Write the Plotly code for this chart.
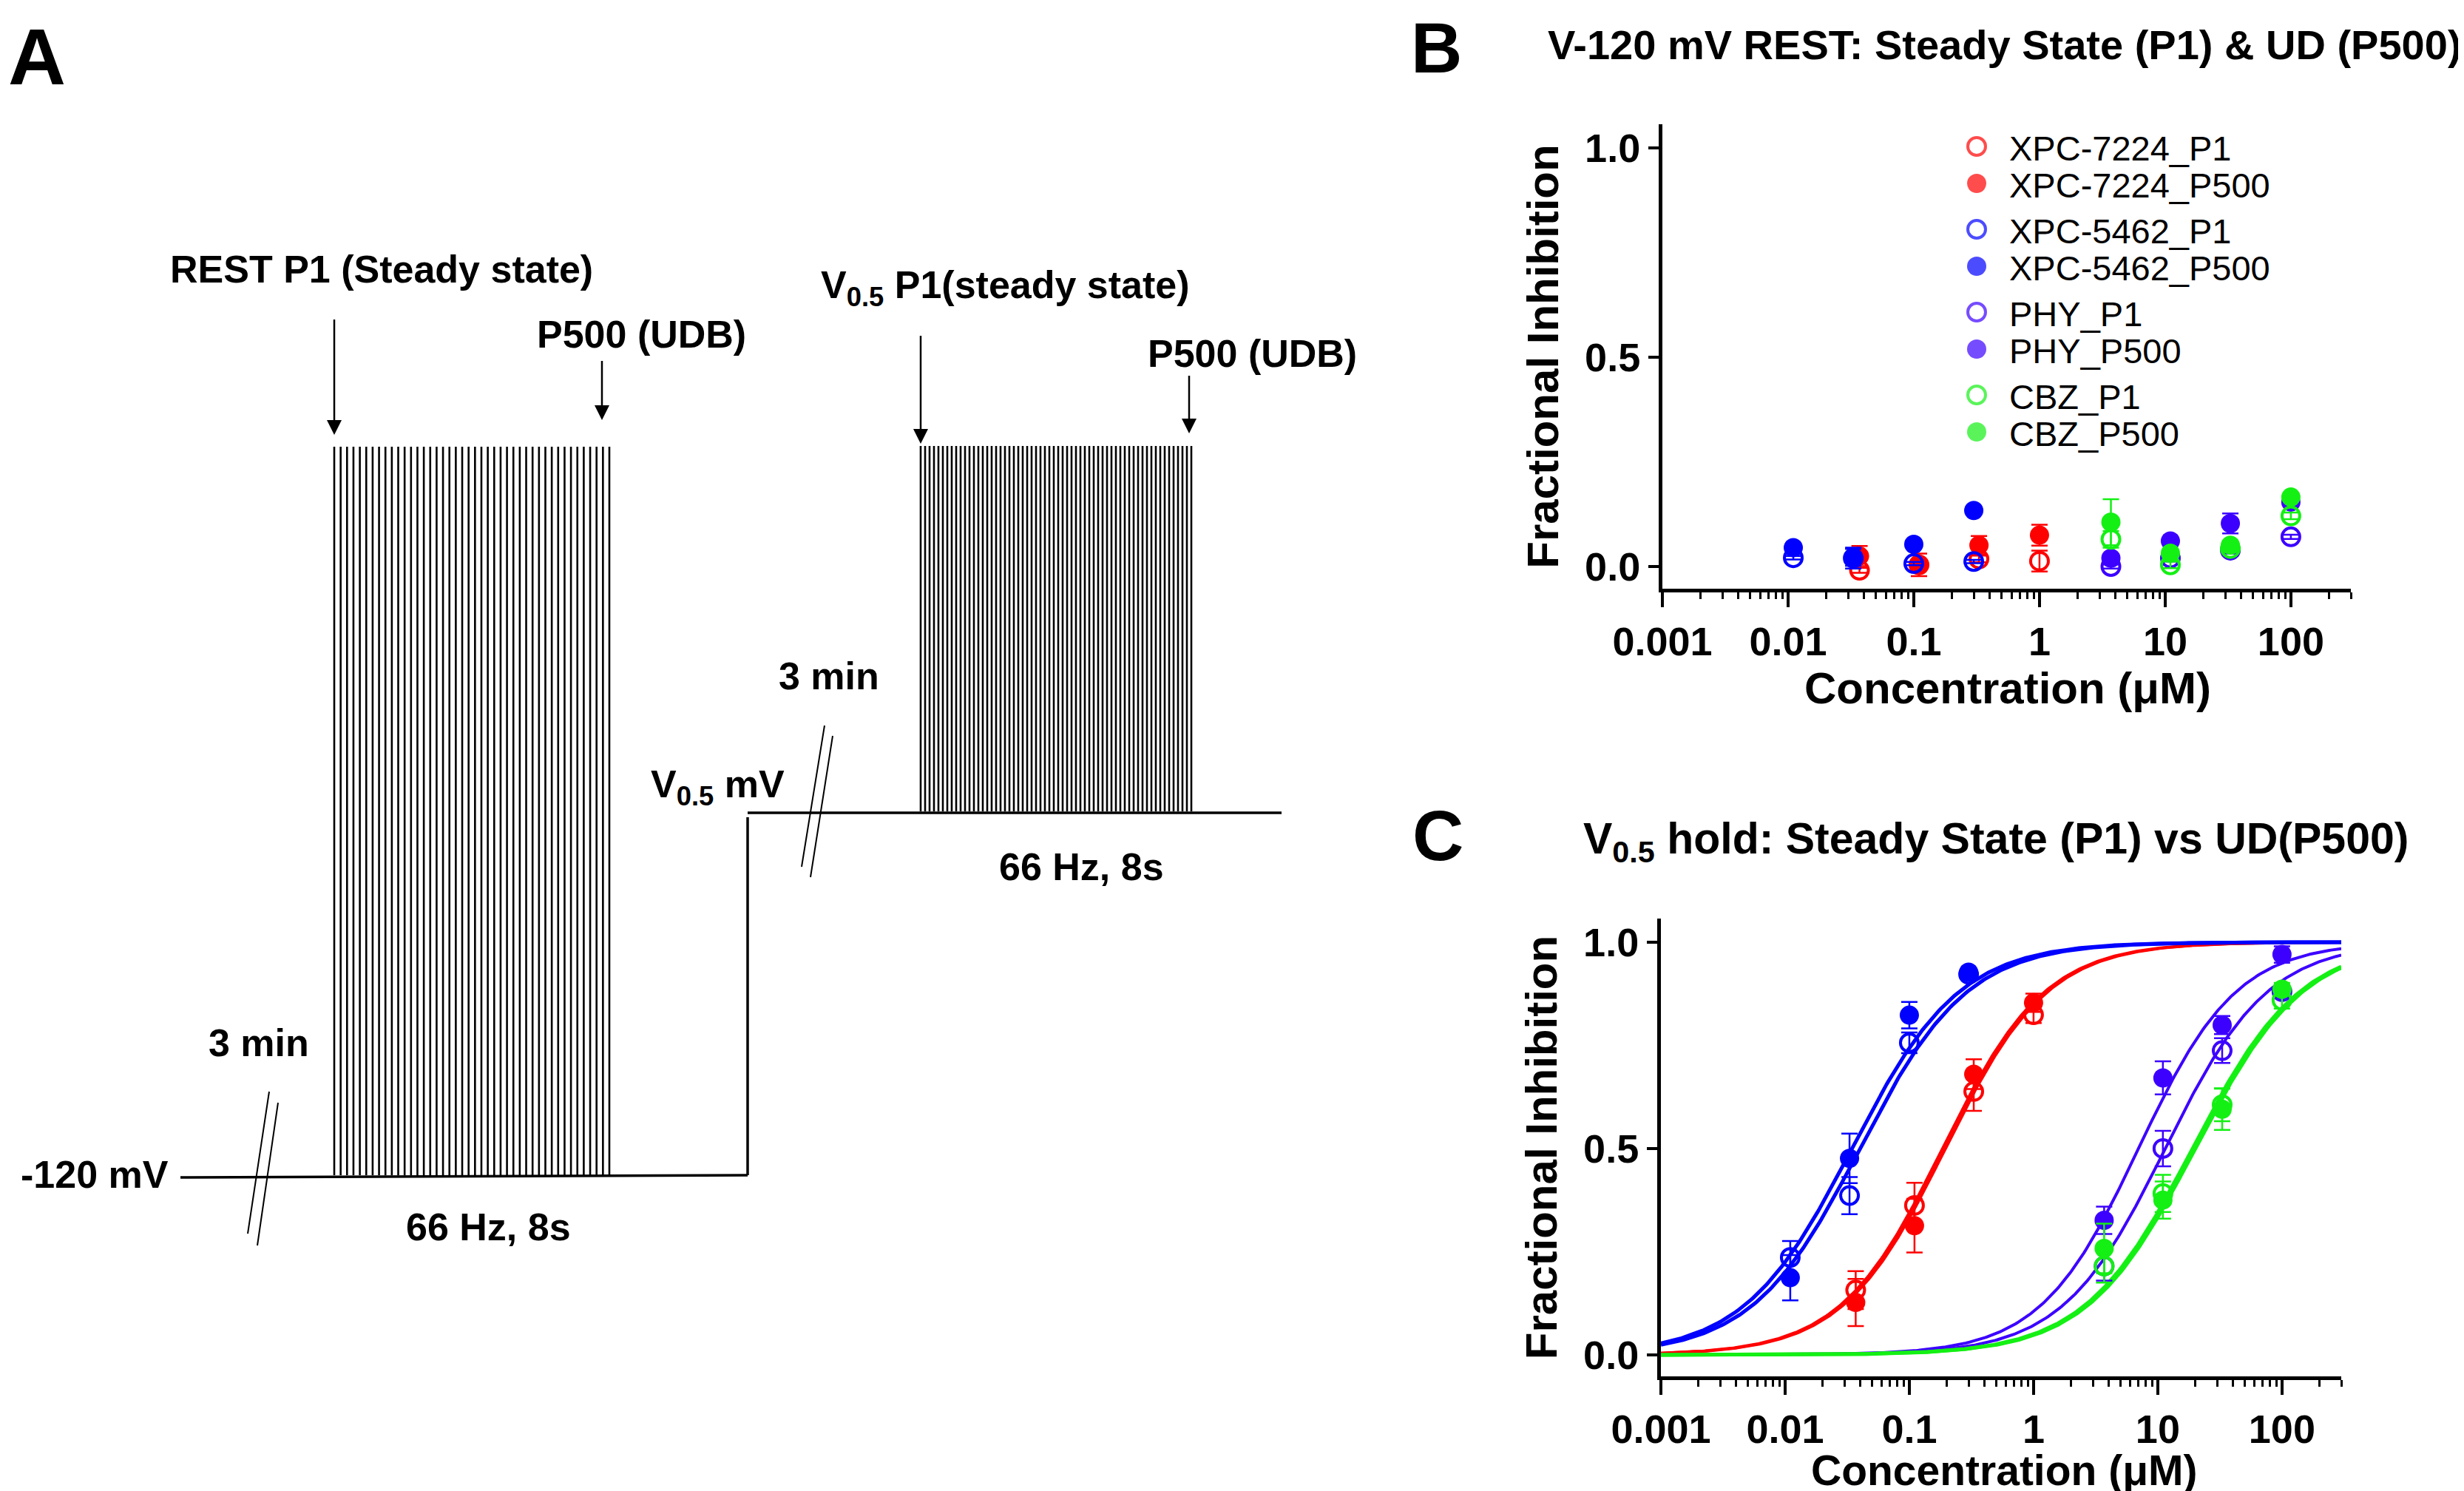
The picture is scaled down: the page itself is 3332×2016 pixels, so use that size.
import numpy as np
import plotly.graph_objects as go

W, H = 3332, 2016

# ---------------- data ----------------
compounds = ["XPC-7224", "XPC-5462", "PHY", "CBZ"]
colors = ["#FF0000", "#0000FF", "#3C00FF", "#14F014"]

conc_xpc7224 = [0.037, 0.11, 0.33, 1.0]
conc_xpc5462 = [0.011, 0.033, 0.1, 0.3]
conc_phy = [3.7, 11.0, 33.0, 100.0]
conc_cbz = [3.7, 11.0, 33.0, 100.0]

# Panel B: -120 mV rest
b_xpc7224_p1 = [-0.009, 0.004, 0.018, 0.013]
b_xpc7224_p1_err = [0.006, 0.006, 0.008, 0.025]
b_xpc7224_p500 = [0.025, 0.004, 0.051, 0.075]
b_xpc7224_p500_err = [0.024, 0.027, 0.022, 0.025]
b_xpc5462_p1 = [0.021, 0.020, 0.007, 0.012]
b_xpc5462_p1_err = [0.004, 0.025, 0.004, 0.004]
b_xpc5462_p500 = [0.045, 0.022, 0.053, 0.134]
b_xpc5462_p500_err = [0.004, 0.02, 0.004, 0.004]
b_phy_p1 = [0.000, 0.020, 0.039, 0.071]
b_phy_p1_err = [0.005, 0.008, 0.008, 0.005]
b_phy_p500 = [0.020, 0.061, 0.103, 0.154]
b_phy_p500_err = [0.005, 0.008, 0.024, 0.008]
b_cbz_p1 = [0.065, 0.004, 0.043, 0.121]
b_cbz_p1_err = [0.02, 0.008, 0.008, 0.008]
b_cbz_p500 = [0.106, 0.032, 0.051, 0.166]
b_cbz_p500_err = [0.055, 0.008, 0.008, 0.008]

# Panel C: V0.5 hold
c_xpc7224_p1 = [0.157, 0.362, 0.638, 0.824]
c_xpc7224_p1_err = [0.046, 0.055, 0.047, 0.02]
c_xpc7224_p500 = [0.127, 0.313, 0.680, 0.853]
c_xpc7224_p500_err = [0.057, 0.065, 0.036, 0.022]
c_xpc5462_p1 = [0.236, 0.386, 0.756, 0.922]
c_xpc5462_p1_err = [0.04, 0.045, 0.025, 0.01]
c_xpc5462_p500 = [0.187, 0.476, 0.823, 0.927]
c_xpc5462_p500_err = [0.055, 0.06, 0.032, 0.01]
c_phy_p1 = [0.215, 0.500, 0.737, 0.880]
c_phy_p1_err = [0.035, 0.043, 0.03, 0.015]
c_phy_p500 = [0.326, 0.671, 0.799, 0.970]
c_phy_p500_err = [0.033, 0.04, 0.022, 0.02]
c_cbz_p1 = [0.215, 0.391, 0.606, 0.859]
c_cbz_p1_err = [0.04, 0.045, 0.04, 0.02]
c_cbz_p500 = [0.258, 0.375, 0.595, 0.886]
c_cbz_p500_err = [0.06, 0.045, 0.05, 0.015]

# Fitted Hill parameters (panel C curves), order as `compounds`
ic50_p1 = [0.195, 0.040, 11.5, 20.0]
ic50_p500 = [0.185, 0.0345, 7.0, 19.0]
hill_p1 = [1.05, 1.0, 1.05, 1.0]
hill_p500 = [1.05, 1.0, 1.1, 1.0]
curve_widths = [4, 5, 4, 5]

x_ticks = [0.001, 0.01, 0.1, 1, 10, 100]
x_ticktext = ["0.001", "0.01", "0.1", "1", "10", "100"]
y_ticks = [0.0, 0.5, 1.0]
y_ticktext = ["0.0", "0.5", "1.0"]

# Panel A protocol (schematic) parameters
pulse_counts = [44, 62]
protocol_labels = ["-120 mV", "V<sub>0.5</sub> mV"]

# ---------------- helpers ----------------
F_SANS = "Liberation Sans, Arial, Helvetica, sans-serif"

concs = [conc_xpc7224, conc_xpc5462, conc_phy, conc_cbz]
b_p1 = [b_xpc7224_p1, b_xpc5462_p1, b_phy_p1, b_cbz_p1]
b_p1e = [b_xpc7224_p1_err, b_xpc5462_p1_err, b_phy_p1_err, b_cbz_p1_err]
b_p5 = [b_xpc7224_p500, b_xpc5462_p500, b_phy_p500, b_cbz_p500]
b_p5e = [b_xpc7224_p500_err, b_xpc5462_p500_err, b_phy_p500_err, b_cbz_p500_err]
c_p1 = [c_xpc7224_p1, c_xpc5462_p1, c_phy_p1, c_cbz_p1]
c_p1e = [c_xpc7224_p1_err, c_xpc5462_p1_err, c_phy_p1_err, c_cbz_p1_err]
c_p5 = [c_xpc7224_p500, c_xpc5462_p500, c_phy_p500, c_cbz_p500]
c_p5e = [c_xpc7224_p500_err, c_xpc5462_p500_err, c_phy_p500_err, c_cbz_p500_err]

fig = go.Figure()


def add_points(xa, ya, x, y, err, color, filled, name):
    if filled:
        marker = dict(symbol="circle", size=26, color=color, line=dict(width=0))
    else:
        marker = dict(symbol="circle-open", size=24, color=color, line=dict(width=4, color=color))
    fig.add_trace(go.Scatter(
        x=x, y=y, mode="markers", name=name, marker=marker, xaxis=xa, yaxis=ya,
        error_y=dict(type="data", array=err, color=color, thickness=2.5, width=11),
        showlegend=False, cliponaxis=False))


# Panel B points
for i, comp in enumerate(compounds):
    add_points("x", "y", concs[i], b_p1[i], b_p1e[i], colors[i], False, comp + "_P1")
    add_points("x", "y", concs[i], b_p5[i], b_p5e[i], colors[i], True, comp + "_P500")

# Panel C fitted curves
xfit = np.logspace(-3, np.log10(300), 400)
for i, comp in enumerate(compounds):
    for ic, nh in ((ic50_p1[i], hill_p1[i]), (ic50_p500[i], hill_p500[i])):
        yfit = 1.0 / (1.0 + (ic / xfit) ** nh)
        fig.add_trace(go.Scatter(x=xfit, y=yfit, mode="lines", xaxis="x2", yaxis="y2",
                                 line=dict(color=colors[i], width=curve_widths[i]),
                                 showlegend=False, hoverinfo="skip"))
# Panel C points
for i, comp in enumerate(compounds):
    add_points("x2", "y2", concs[i], c_p1[i], c_p1e[i], colors[i], False, comp + "_P1")
    add_points("x2", "y2", concs[i], c_p5[i], c_p5e[i], colors[i], True, comp + "_P500")

# ---------------- Panel A schematic (pixel frame x3/y3) ----------------
base_y, up_y = 1584, 1091
step_x = 1003
lines_x, lines_y = [], []
for seg in [((236, base_y), (step_x, base_y - 3)), ((step_x, base_y - 3), (step_x, up_y + 6)),
            ((step_x, up_y), (1725, up_y))]:
    lines_x += [seg[0][0], seg[1][0], None]
    lines_y += [seg[0][1], seg[1][1], None]
fig.add_trace(go.Scatter(x=lines_x, y=lines_y, mode="lines", xaxis="x3", yaxis="y3",
                         line=dict(color="black", width=3.5), showlegend=False, hoverinfo="skip"))

# pulse trains
trains = [(444, 816, 596, base_y - 3, pulse_counts[0]), (1237, 1603, 595, up_y - 2, pulse_counts[1])]
px, py = [], []
for x0, x1, yt, yb, n in trains:
    for xv in np.linspace(x0, x1, n):
        px += [xv, xv, None]
        py += [yt, yb, None]
fig.add_trace(go.Scatter(x=px, y=py, mode="lines", xaxis="x3", yaxis="y3",
                         line=dict(color="black", width=2.6), showlegend=False, hoverinfo="skip"))

# break marks
bx, by = [], []
for (x0, y0, x1, y1) in [(356, 1468, 327, 1660), (368, 1483, 340, 1676),
                         (1107, 973, 1076, 1164), (1118, 987, 1088, 1178)]:
    bx += [x0, x1, None]
    by += [y0, y1, None]
fig.add_trace(go.Scatter(x=bx, y=by, mode="lines", xaxis="x3", yaxis="y3",
                         line=dict(color="black", width=2), showlegend=False, hoverinfo="skip"))

# arrows (shaft + head)
arrows = [(444, 424, 580), (806, 480, 560), (1237, 446, 592), (1600, 500, 578)]
ax_, ay_ = [], []
for (xa, y0, y1) in arrows:
    ax_ += [xa, xa, None]
    ay_ += [y0, y1 - 12, None]
fig.add_trace(go.Scatter(x=ax_, y=ay_, mode="lines", xaxis="x3", yaxis="y3",
                         line=dict(color="black", width=2.5), showlegend=False, hoverinfo="skip"))
fig.add_trace(go.Scatter(x=[a[0] for a in arrows], y=[a[2] for a in arrows], mode="markers",
                         xaxis="x3", yaxis="y3", showlegend=False, hoverinfo="skip",
                         marker=dict(symbol="arrow-down", size=20, color="black", line=dict(width=0))))

# manual legend (panel B)
leg_names, leg_sym, leg_col, leg_x, leg_y = [], [], [], [], []
for i, comp in enumerate(compounds):
    for j, suf in enumerate(["_P1", "_P500"]):
        leg_names.append(comp + suf)
        leg_sym.append("circle-open" if j == 0 else "circle")
        leg_col.append(colors[i])
        leg_x.append(2665)
        leg_y.append(190 + i * 112 + j * 50)
fig.add_trace(go.Scatter(
    x=leg_x, y=leg_y, mode="markers", xaxis="x3", yaxis="y3", showlegend=False, hoverinfo="skip",
    marker=dict(symbol=leg_sym, color=leg_col, size=[24 if s == "circle-open" else 26 for s in leg_sym],
                line=dict(width=[4 if s == "circle-open" else 0 for s in leg_sym], color=leg_col))))

annotations = []
for name, xx, yy in zip(leg_names, leg_x, leg_y):
    annotations.append(dict(x=xx + 42, y=yy + 2, xref="x3", yref="y3", text=name, showarrow=False,
                            xanchor="left", yanchor="middle",
                            font=dict(family=F_SANS, size=47, color="black")))

A_FONT = dict(family=F_SANS, size=52, color="black", weight="bold")
a_texts = [
    ("REST P1 (Steady state)", 220, 356, "left"),
    ("P500 (UDB)", 716, 444, "left"),
    ("V<sub>0.5</sub> P1(steady state)", 1100, 381, "left"),
    ("P500 (UDB)", 1542, 470, "left"),
    ("3 min", 342, 1402, "center"),
    ("3 min", 1113, 906, "center"),
    (protocol_labels[0], 222, 1580, "right"),
    (protocol_labels[1], 870, 1056, "left"),
    ("66 Hz, 8s", 652, 1651, "center"),
    ("66 Hz, 8s", 1454, 1164, "center"),
]
for t, xx, yy, anc in a_texts:
    annotations.append(dict(x=xx, y=yy, xref="x3", yref="y3", text=t, showarrow=False,
                            xanchor=anc, yanchor="middle", font=A_FONT))

# panel letters and titles
annotations.append(dict(x=1, y=6, xref="x3", yref="y3", text="A", showarrow=False,
                        xanchor="left", yanchor="top",
                        font=dict(family=F_SANS, size=108, color="black", weight="bold")))
for letter, xx, yy in [("B", 1934, 1), ("C", 1936, 1066)]:
    annotations.append(dict(x=xx, y=yy, xref="x3", yref="y3", text=letter, showarrow=False,
                            xanchor="center", yanchor="top",
                            font=dict(family=F_SANS, size=96, color="black", weight="bold")))
annotations.append(dict(x=2083, y=52, xref="x3", yref="y3",
                        text="V-120 mV REST: Steady State (P1) & UD (P500)", showarrow=False,
                        xanchor="left", yanchor="middle",
                        font=dict(family=F_SANS, size=56, color="black", weight="bold")))
annotations.append(dict(x=2131, y=1130, xref="x3", yref="y3",
                        text="V<sub>0.5</sub> hold: Steady State (P1) vs UD(P500)", showarrow=False,
                        xanchor="left", yanchor="middle",
                        font=dict(family=F_SANS, size=59, color="black", weight="bold")))

# ---------------- axes ----------------
tick_font = dict(family=F_SANS, size=54, color="black", weight="bold")
title_font = dict(family=F_SANS, size=60, color="black", weight="bold")

# x-axis titles placed as text under each panel
for xx, yy, fs in [(2707, 922, 60), (2702, 1980, 57)]:
    annotations.append(dict(x=xx, y=yy, xref="x3", yref="y3", text="Concentration (μM)",
                            showarrow=False, xanchor="center", yanchor="middle",
                            font=dict(family=F_SANS, size=fs, color="black", weight="bold")))


def xaxis_cfg(dom, anchor):
    return dict(type="log", range=[-3, np.log10(300)], domain=dom, anchor=anchor, automargin=False,
                showline=True, linewidth=5, linecolor="black", ticks="outside", ticklen=20,
                tickwidth=4, tickcolor="black", tickvals=x_ticks, ticktext=x_ticktext,
                tickfont=tick_font, showgrid=False, zeroline=False,
                minor=dict(ticks="outside", ticklen=9, tickwidth=3, tickcolor="black",
                           dtick="D1", showgrid=False))


def yaxis_cfg(dom, anchor, rng):
    return dict(range=rng, domain=dom, anchor=anchor, showline=True, linewidth=5, automargin=False,
                linecolor="black", ticks="outside", ticklen=14, tickwidth=4, tickcolor="black",
                tickvals=y_ticks, ticktext=y_ticktext, tickfont=tick_font, showgrid=False,
                zeroline=False,
                title=dict(text="Fractional Inhibition", font=title_font, standoff=18))


fig.update_layout(
    width=W, height=H, margin=dict(l=0, r=0, t=0, b=0, autoexpand=False),
    plot_bgcolor="rgba(0,0,0,0)", paper_bgcolor="white", showlegend=False,
    xaxis=xaxis_cfg([2240 / W, 3171 / W], "y"),
    yaxis=yaxis_cfg([1 - 788 / H, 1 - 160 / H], "x", [-0.053, 1.057]),
    xaxis2=xaxis_cfg([2238 / W, 3158 / W], "y2"),
    yaxis2=yaxis_cfg([1 - 1853 / H, 1 - 1234 / H], "x2", [-0.052, 1.057]),
    xaxis3=dict(domain=[0, 1], range=[0, W], visible=False, anchor="y3", fixedrange=True,
                automargin=False),
    yaxis3=dict(domain=[0, 1], range=[H, 0], visible=False, anchor="x3", fixedrange=True,
                automargin=False),
    annotations=annotations,
)

fig.write_html("out.html")
